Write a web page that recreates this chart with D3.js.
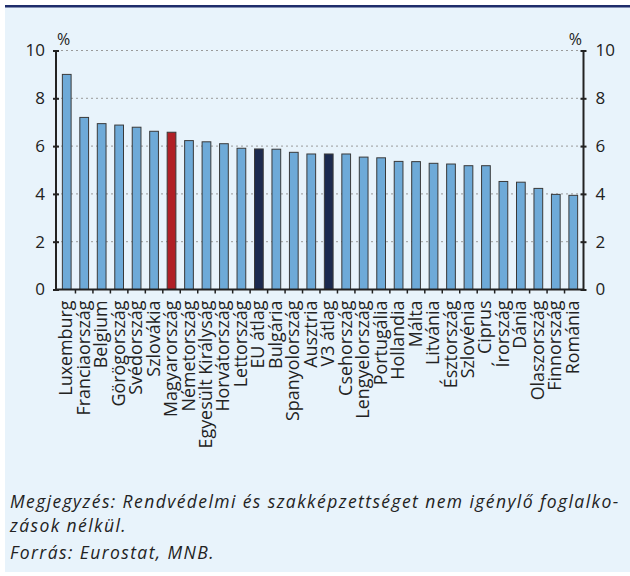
<!DOCTYPE html>
<html><head><meta charset="utf-8">
<script src="https://cdn.jsdelivr.net/npm/d3@7"></script>
<style>html,body{margin:0;padding:0;background:#fff;}svg{display:block;}</style>
</head><body>
<svg id="chart" width="630" height="576"></svg>
<script>
const categories = ["Luxemburg","Franciaország","Belgium","Görögország","Svédország","Szlovákia","Magyarország","Németország","Egyesült Királyság","Horvátország","Lettország","EU átlag","Bulgária","Spanyolország","Ausztria","V3 átlag","Csehország","Lengyelország","Portugália","Hollandia","Málta","Litvánia","Észtország","Szlovénia","Ciprus","Írország","Dánia","Olaszország","Finnország","Románia"];
const values = [9.0,7.2,6.94,6.88,6.79,6.62,6.58,6.23,6.18,6.10,5.91,5.88,5.87,5.74,5.67,5.67,5.67,5.54,5.51,5.36,5.35,5.28,5.25,5.18,5.18,4.52,4.49,4.23,3.98,3.94];
const highlightHU = ["Magyarország"];
const highlightAvg = ["EU átlag","V3 átlag"];
const yTicks = [0,2,4,6,8,10];
const unitLabel = "%";
const noteLines = ["Megjegyzés: Rendvédelmi és szakképzettséget nem igénylő foglalko-","zások nélkül."];
const sourceLine = "Forrás: Eurostat, MNB.";

const svg = d3.select("#chart");
const font = "'Open Sans', Lato, sans-serif";
svg.append("rect").attr("x",5).attr("y",5).attr("width",625).attr("height",567).attr("fill","#e8f3fb");
svg.append("rect").attr("x",5).attr("y",5).attr("width",625).attr("height",2.5).attr("fill","#1f2d6b");

const axL = 56, axR = 583.5, yTop = 50.5, yBot = 289.5;
const x = d3.scaleBand().domain(categories).range([58, 582]).paddingInner(0.5).paddingOuter(0.25);
const y = d3.scaleLinear().domain([0,10]).range([yBot, yTop]);

// grid
svg.append("g").selectAll("line").data(yTicks.filter(d=>d>0)).join("line")
  .attr("x1",axL).attr("x2",axR).attr("y1",d=>y(d)).attr("y2",d=>y(d))
  .attr("stroke","#9a9a9a").attr("stroke-width",1).attr("stroke-dasharray","2,3");

// bars
svg.append("g").selectAll("rect").data(categories).join("rect")
  .attr("x",d=>x(d)).attr("width",x.bandwidth())
  .attr("y",(d,i)=>y(values[i])).attr("height",(d,i)=>y(0)-y(values[i]))
  .attr("fill",d=>highlightHU.includes(d)?"#b02026":highlightAvg.includes(d)?"#1b2a4f":"#6eaad8")
  .attr("stroke","#3a3a3a").attr("stroke-width",1);

// left axis
const gl = svg.append("g").attr("transform",`translate(${axL},0)`);
gl.call(d3.axisLeft(y).tickValues(yTicks).tickSize(3).tickPadding(8));
gl.selectAll(".tick line").attr("x2",3).attr("x1",-3).attr("stroke","#222").attr("stroke-width",2);
gl.select(".domain").attr("stroke","#222").attr("stroke-width",2).attr("d",`M0,${yTop}V${yBot+1}`);
gl.selectAll("text").attr("font-family",font).attr("font-size",17).attr("fill","#222");

const gr = svg.append("g").attr("transform",`translate(${axR},0)`);
gr.call(d3.axisRight(y).tickValues(yTicks).tickSize(3).tickPadding(9));
gr.selectAll(".tick line").attr("x2",3).attr("x1",-3).attr("stroke","#222").attr("stroke-width",2);
gr.select(".domain").attr("stroke","#222").attr("stroke-width",2).attr("d",`M0,${yTop}V${yBot+1}`);
gr.selectAll("text").attr("font-family",font).attr("font-size",17).attr("fill","#222");

// bottom axis line
svg.append("line").attr("x1",axL).attr("x2",axR).attr("y1",yBot).attr("y2",yBot).attr("stroke","#222").attr("stroke-width",2);
const step = x.step();
const bounds = categories.map(c=>x(c)+x.bandwidth()/2+step/2).slice(0,-1);
svg.append("g").selectAll("line").data(bounds).join("line")
  .attr("x1",d=>d).attr("x2",d=>d).attr("y1",yBot).attr("y2",yBot+4).attr("stroke","#222").attr("stroke-width",1.5);

// category labels, size fitted so the longest label spans the reference length
const labels = svg.append("g").selectAll("text").data(categories).join("text")
  .attr("transform",d=>`translate(${x(d)+x.bandwidth()/2+5.5},${yBot+11}) rotate(-90)`)
  .attr("text-anchor","end").attr("font-family",font).attr("font-size",16).attr("fill","#222")
  .text(d=>d);
const egy = labels.filter(d=>d==="Egyesült Királyság").node();
const lblSize = 16*148/egy.getComputedTextLength();
labels.attr("font-size",lblSize);

// unit labels
svg.append("text").attr("x",57).attr("y",45).attr("font-family",font).attr("font-size",16).attr("fill","#222").text(unitLabel);
svg.append("text").attr("x",582).attr("y",45).attr("text-anchor","end").attr("font-family",font).attr("font-size",16).attr("fill","#222").text(unitLabel);

// notes: italic, small letter-spacing fitted to the reference line width
const notes = svg.append("g").attr("font-family",font).attr("font-size",17.5).attr("font-style","italic").attr("fill","#222");
const n1 = notes.append("text").attr("x",10).attr("y",508).text(noteLines[0]);
notes.append("text").attr("x",10).attr("y",532).text(noteLines[1]);
notes.append("text").attr("x",10).attr("y",559).text(sourceLine);
const w = n1.node().getComputedTextLength();
notes.attr("letter-spacing",((608-w)/(noteLines[0].length-1)).toFixed(2)+"px");
</script>
</body></html>
